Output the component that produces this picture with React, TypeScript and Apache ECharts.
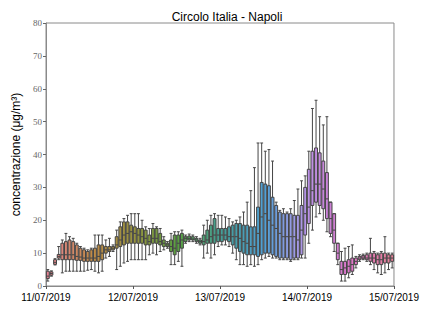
import React, { useEffect, useRef } from "react";
import * as echarts from "echarts";

const chartTitle = "Circolo Italia - Napoli";
const yAxisName = "concentrazione (μg/m³)";
const dateLabels = ["11/07/2019", "12/07/2019", "13/07/2019", "14/07/2019", "15/07/2019"];

// hourly categories (96 hours, 11/07 00h .. 14/07 23h)
const hourLabels: string[] = [];
for (let d = 0; d < 4; d++) for (let h = 0; h < 24; h++) hourLabels.push(`${dateLabels[d]} ${h}h`);

const whiskerLow = [
  1.5, 3.0, 6.4, 8.0, 4.0, 4.5, 4.5, 4.5, 4.5, 4.5,
  4.5, 4.8, 5.0, 4.5, 4.0, 4.5, 8.5, 9.0, 10.5, 5.0,
  6.0, 7.0, 7.5, 8.0, 8.0, 8.0, 8.0, 8.0, 9.5, 10.0,
  9.5, 10.5, 11.0, 11.5, 6.5, 6.5, 7.5, 6.0, 13.0, 13.5,
  13.5, 13.0, 12.5, 8.5, 10.0, 8.5, 9.5, 12.0, 12.5, 12.5,
  12.0, 10.0, 8.0, 6.5, 6.5, 6.0, 6.5, 6.0, 6.5, 8.0,
  8.5, 9.0, 8.5, 8.5, 8.0, 8.0, 8.0, 7.5, 8.0, 8.0,
  8.5, 8.5, 13.0, 17.0, 21.0, 22.0, 20.0, 16.5, 15.0, 10.5,
  6.5, 1.5, 1.5, 2.5, 3.5, 5.5, 7.5, 8.0, 7.5, 6.5,
  5.0, 4.0, 3.5, 4.0, 5.0, 5.5,
];
const quartile1 = [
  2.3, 3.3, 6.6, 8.5, 8.0, 8.0, 8.0, 8.0, 7.8, 7.8,
  7.5, 7.5, 7.5, 7.5, 7.5, 8.0, 10.0, 10.5, 11.0, 11.5,
  12.0, 12.5, 13.0, 13.0, 13.0, 13.0, 13.0, 12.5, 12.5, 13.0,
  13.0, 12.5, 12.0, 12.0, 10.5, 9.5, 10.5, 11.5, 13.5, 14.0,
  14.0, 13.5, 13.0, 12.5, 13.0, 13.0, 13.0, 13.5, 13.5, 14.0,
  13.5, 12.5, 11.5, 10.5, 10.0, 9.5, 9.5, 9.5, 9.0, 9.5,
  10.0, 10.0, 9.5, 9.0, 8.5, 8.5, 8.5, 8.0, 8.5, 8.5,
  9.5, 15.5, 19.0, 24.5, 25.5, 24.5, 23.5, 20.5, 16.0, 13.0,
  8.0, 3.5, 3.5, 4.0, 4.5, 6.5, 8.0, 8.3, 8.0, 7.5,
  7.0, 6.5, 6.5, 7.0, 7.0, 7.5,
];
const medians = [
  3.0, 3.8, 7.2, 9.0, 9.5, 9.5, 9.5, 9.5, 9.0, 8.8,
  8.5, 8.5, 8.5, 8.5, 9.0, 10.0, 11.0, 11.0, 11.5, 12.5,
  14.0, 15.5, 16.0, 16.5, 16.0, 15.5, 15.0, 14.5, 13.5, 14.5,
  14.5, 13.5, 13.0, 12.5, 12.0, 11.5, 13.0, 14.0, 14.5, 14.5,
  14.3, 14.0, 13.5, 13.5, 14.0, 15.0, 15.5, 15.5, 15.5, 15.5,
  15.0, 15.0, 15.0, 14.5, 13.5, 13.0, 12.0, 12.0, 16.0, 21.0,
  22.0, 20.0, 18.5, 17.5, 16.0, 15.0, 15.0, 15.0, 15.0, 14.0,
  17.0, 22.0, 24.0, 29.0, 31.0, 31.0, 29.5, 26.5, 20.5, 17.0,
  10.0, 5.0, 5.5, 6.0, 6.5, 7.5, 8.5, 8.8, 8.5, 8.5,
  8.5, 8.0, 8.0, 8.5, 8.5, 8.5,
];
const quartile3 = [
  4.5, 4.3, 8.0, 9.6, 13.0, 13.5, 14.0, 13.5, 12.5, 11.5,
  11.0, 10.5, 11.0, 11.5, 12.5, 12.5, 12.0, 12.0, 12.0, 15.0,
  18.0, 19.5, 19.5, 18.5, 18.0, 17.5, 17.5, 17.0, 15.5, 17.5,
  17.5, 16.0, 14.0, 13.0, 14.0, 15.5, 15.5, 16.0, 15.0, 15.2,
  15.0, 14.5, 14.0, 15.5, 17.0, 18.5, 20.5, 17.5, 17.5, 17.5,
  18.0, 18.5, 19.0, 19.0, 18.5, 18.5, 18.0, 18.0, 24.0, 31.5,
  31.0, 30.5, 27.0, 24.5, 22.5, 22.0, 22.0, 22.0, 21.5, 21.5,
  24.5, 30.0, 35.5, 41.0, 42.0, 40.5, 38.0, 34.5, 25.5, 22.0,
  13.0, 7.5, 7.5, 8.0, 8.5, 8.5, 9.0, 9.3, 9.5, 10.0,
  10.0, 9.5, 10.0, 10.0, 9.5, 9.5,
];
const whiskerHigh = [
  5.0, 4.6, 8.3, 12.0, 14.0, 16.0, 15.0, 14.5, 13.0, 12.0,
  11.5, 11.0, 11.5, 15.5, 15.5, 15.5, 14.0, 14.5, 12.5, 17.0,
  19.5, 20.5, 21.5, 22.0, 22.0, 22.0, 20.0, 18.0, 17.5, 19.0,
  18.0, 17.5, 15.0, 13.5, 16.0, 16.5, 16.5, 17.0, 15.5, 15.8,
  15.5, 15.0, 14.5, 18.5, 20.0, 21.5, 22.0, 21.5, 21.5, 21.0,
  20.5, 19.5, 20.0, 21.0, 22.5, 25.5, 29.0, 36.0, 43.5, 43.5,
  41.0, 41.5, 38.0, 25.5, 23.0, 23.5, 22.5, 23.5, 26.0, 29.5,
  32.0, 33.5, 41.0, 54.0, 56.5, 51.5, 49.0, 51.5, 25.5, 22.0,
  13.0, 10.5, 11.5, 12.0, 12.5, 9.0, 9.5, 9.7, 10.0, 14.5,
  10.5, 10.0, 10.5, 15.0, 10.0, 10.0,
];

// seaborn "husl" key colours, interpolated around the hue circle, then desaturated (0.75)
const huslKeys = ["#f77189", "#d58c32", "#a4a031", "#50b131", "#36ada4", "#3ba3ec", "#bb83f4", "#f564d4"];

function hexToRgb(h: string) {
  return [parseInt(h.slice(1, 3), 16) / 255, parseInt(h.slice(3, 5), 16) / 255, parseInt(h.slice(5, 7), 16) / 255];
}
function rgbToHls(r: number, g: number, b: number) {
  const mx = Math.max(r, g, b), mn = Math.min(r, g, b);
  const l = (mx + mn) / 2;
  if (mx === mn) return [0, l, 0];
  const d = mx - mn;
  const s = l <= 0.5 ? d / (mx + mn) : d / (2 - mx - mn);
  let h;
  if (mx === r) h = (g - b) / d;
  else if (mx === g) h = 2 + (b - r) / d;
  else h = 4 + (r - g) / d;
  h = (h / 6) % 1;
  if (h < 0) h += 1;
  return [h, l, s];
}
function hlsToRgb(h: number, l: number, s: number) {
  if (s === 0) return [l, l, l];
  const m2 = l <= 0.5 ? l * (1 + s) : l + s - l * s;
  const m1 = 2 * l - m2;
  const v = (hue: number) => {
    hue = ((hue % 1) + 1) % 1;
    if (hue < 1 / 6) return m1 + (m2 - m1) * hue * 6;
    if (hue < 0.5) return m2;
    if (hue < 2 / 3) return m1 + (m2 - m1) * (2 / 3 - hue) * 6;
    return m1;
  };
  return [v(h + 1 / 3), v(h), v(h - 1 / 3)];
}
function boxColor(i: number, n: number) {
  const t = (i / n) * huslKeys.length;
  const k = Math.floor(t);
  const f = t - k;
  const a = hexToRgb(huslKeys[k % huslKeys.length]);
  const b = hexToRgb(huslKeys[(k + 1) % huslKeys.length]);
  const rgb = a.map((c, j) => c + (b[j] - c) * f);
  const [h, l, s] = rgbToHls(rgb[0], rgb[1], rgb[2]);
  const out = hlsToRgb(h, l, s * 0.75);
  return `rgb(${out.map((c) => Math.round(c * 255)).join(",")})`;
}

const lineGray = "#454545";

export default function App() {
  const ref = useRef<HTMLDivElement>(null);
  useEffect(() => {
    document.body.style.margin = "0";
    const chart = echarts.init(ref.current!, undefined, { renderer: "svg" });
    const n = hourLabels.length;
    const data = hourLabels.map((_, i) => ({
      value: [whiskerLow[i], quartile1[i], medians[i], quartile3[i], whiskerHigh[i]],
      itemStyle: { color: boxColor(i, n), borderColor: lineGray, borderWidth: 1 },
    }));
    chart.setOption({
      animation: false,
      title: {
        text: chartTitle,
        left: 222,
        textAlign: "center",
        top: 6,
        textStyle: { fontSize: 12, fontWeight: "normal", color: "#000", fontFamily: "Liberation Sans" },
      },
      grid: { left: 46, right: 24, top: 23, bottom: 26, show: true, borderColor: "#8a8a8a", borderWidth: 1, backgroundColor: "transparent" },
      xAxis: [
        { type: "category", data: hourLabels, show: false, boundaryGap: true },
        {
          type: "value",
          position: "bottom",
          min: 0,
          max: 96,
          interval: 24,
          axisLine: { show: true, lineStyle: { color: "#8a8a8a", width: 1 } },
          axisTick: { show: true, length: 3, lineStyle: { color: "#555" } },
          splitLine: { show: false },
          axisLabel: {
            showMinLabel: true,
            showMaxLabel: true,
            margin: 6,
            fontSize: 10,
            color: "#000",
            fontFamily: "Liberation Sans",
            formatter: (v: number) => dateLabels[Math.round(v / 24)],
          },
        },
      ],
      yAxis: {
        type: "value",
        min: 0,
        max: 80,
        interval: 10,
        name: yAxisName,
        nameLocation: "middle",
        nameGap: 23,
        nameRotate: 90,
        nameTextStyle: { fontSize: 12, color: "#000", fontFamily: "Liberation Sans" },
        axisLine: { show: true, lineStyle: { color: "#8a8a8a", width: 1 } },
        axisTick: { show: true, length: 3, lineStyle: { color: "#666" } },
        splitLine: { show: false },
        axisLabel: { fontSize: 9, color: "#666", fontFamily: "Liberation Serif", margin: 4 },
      },
      series: [
        {
          type: "boxplot",
          xAxisIndex: 0,
          data,
          boxWidth: ["80%", "80%"],
          itemStyle: { borderColor: lineGray, borderWidth: 1 },
        },
      ],
    });
    return () => chart.dispose();
  }, []);
  return <div ref={ref} style={{ width: 422, height: 312 }} />;
}
